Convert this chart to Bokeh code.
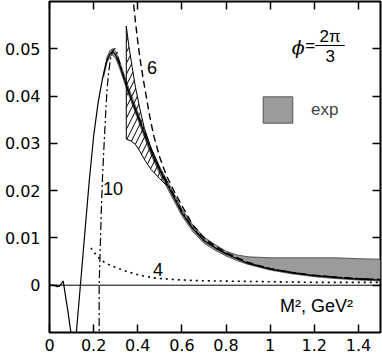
from bokeh.plotting import figure
from bokeh.models import (Range1d, FixedTicker, LinearAxis, Span, Label, Legend,
                          LegendItem)
from bokeh.embed import file_html
from bokeh.resources import INLINE

# ---------------- data ----------------
x_ticks = [0, 0.2, 0.4, 0.6, 0.8, 1.0, 1.2, 1.4]
x_tick_labels = ["0", "0.2", "0.4", "0.6", "0.8", "1", "1.2", "1.4"]
y_ticks = [0, 0.01, 0.02, 0.03, 0.04, 0.05]
y_tick_labels = ["0", "0.01", "0.02", "0.03", "0.04", "0.05"]

# full theory curve (solid)
solid_x = [0.0, 0.02, 0.035, 0.045, 0.055, 0.062, 0.07, 0.085, 0.097, 0.11, 0.12,
           0.14, 0.16, 0.18, 0.20, 0.22, 0.24, 0.26, 0.275, 0.285, 0.30, 0.32,
           0.34, 0.36, 0.38, 0.40, 0.43, 0.46, 0.50, 0.55, 0.60, 0.65, 0.70,
           0.75, 0.80, 0.90, 1.0, 1.1, 1.2, 1.3, 1.4, 1.5]
solid_y = [0.0, 0.0, -0.0003, -0.0002, 0.0004, 0.0009, -0.0015, -0.0060, -0.0100,
           -0.0135, -0.0110, 0.0, 0.0110, 0.0220, 0.0315, 0.0385, 0.0437, 0.0475,
           0.0490, 0.0494, 0.0487, 0.0463, 0.0435, 0.0408, 0.0383, 0.0358, 0.0320,
           0.0283, 0.0242, 0.0198, 0.0153, 0.0119, 0.0094, 0.0079, 0.0066, 0.0046,
           0.0034, 0.0026, 0.0020, 0.0016, 0.0013, 0.0011]

# experimental band (grey)
band_x = [0.245, 0.26, 0.275, 0.285, 0.30, 0.32, 0.34, 0.36, 0.38, 0.40, 0.43,
          0.46, 0.50, 0.55, 0.60, 0.65, 0.70, 0.75, 0.80, 0.85, 0.90, 1.0, 1.1,
          1.2, 1.3, 1.4, 1.5]
band_hi = [0.0448, 0.0482, 0.0497, 0.0500, 0.0494, 0.0471, 0.0443, 0.0416, 0.0391,
           0.0366, 0.0328, 0.0291, 0.0250, 0.0206, 0.0161, 0.0127, 0.0102, 0.0086,
           0.0072, 0.0064, 0.0060, 0.0058, 0.0058, 0.0058, 0.0058, 0.0056, 0.0055]
band_lo = [0.0440, 0.0470, 0.0484, 0.0487, 0.0480, 0.0456, 0.0428, 0.0401, 0.0376,
           0.0351, 0.0313, 0.0276, 0.0235, 0.0191, 0.0147, 0.0113, 0.0089, 0.0074,
           0.0062, 0.0052, 0.0044, 0.0032, 0.0024, 0.0018, 0.0014, 0.0011, 0.0009]

# hatched region
hatch_top_x = [0.348, 0.36, 0.375, 0.39, 0.41, 0.43, 0.46, 0.50, 0.53]
hatch_top_y = [0.0548, 0.0505, 0.0460, 0.0418, 0.0372, 0.0332, 0.0290, 0.0246, 0.0218]
hatch_bot_x = [0.348, 0.37, 0.389, 0.41, 0.43, 0.46, 0.50, 0.53]
hatch_bot_y = [0.0309, 0.0305, 0.0298, 0.0283, 0.0266, 0.0245, 0.0225, 0.0212]

# curve "6" (dashed)
c6_x = [0.372, 0.38, 0.39, 0.40, 0.41, 0.425, 0.44, 0.455, 0.473, 0.50, 0.53,
        0.56, 0.60, 0.65, 0.70, 0.75, 0.80, 0.90, 1.0, 1.1, 1.2, 1.3, 1.4, 1.5]
c6_y = [0.064, 0.060, 0.0555, 0.0515, 0.0480, 0.0435, 0.0395, 0.0355, 0.0315,
        0.0270, 0.0232, 0.0203, 0.0168, 0.0127, 0.0100, 0.0083, 0.0069, 0.0048,
        0.0035, 0.0027, 0.0021, 0.0017, 0.0014, 0.0012]

# curve "10" (dash-dot)
c10_x = [0.225, 0.225, 0.23, 0.235, 0.24, 0.246, 0.253, 0.261, 0.268, 0.276, 0.285,
         0.292, 0.298, 0.305, 0.315, 0.33, 0.35, 0.37, 0.40, 0.43, 0.46, 0.50, 0.55,
         0.60, 0.65, 0.70, 0.75, 0.80, 0.90, 1.0, 1.1, 1.2, 1.3, 1.4, 1.5]
c10_y = [-0.012, 0.0, 0.008, 0.016, 0.0225, 0.0285, 0.035, 0.0415, 0.0450, 0.0478,
         0.0494, 0.0500, 0.0500, 0.0493, 0.0475, 0.0450, 0.0420, 0.0394, 0.0360,
         0.0324, 0.0288, 0.0247, 0.0203, 0.0157, 0.0121, 0.0096, 0.0080, 0.0067,
         0.0047, 0.0035, 0.0027, 0.0021, 0.0017, 0.0014, 0.0012]

# curve "4" (dotted)
c4_x = [0.188, 0.20, 0.215, 0.229, 0.25, 0.275, 0.304, 0.35, 0.41, 0.48, 0.564,
        0.65, 0.75, 0.9, 1.05, 1.2, 1.35, 1.5]
c4_y = [0.0079, 0.0071, 0.0062, 0.0055, 0.0048, 0.0042, 0.0037, 0.0029, 0.0021,
        0.0015, 0.0012, 0.0010, 0.0009, 0.0008, 0.0007, 0.0006, 0.0006, 0.0006]

# ---------------- figure ----------------
SANS = "Liberation Sans"
TICKFONT = "DejaVu Sans"

p = figure(width=382, height=359, x_range=Range1d(0, 1.5), y_range=Range1d(-0.01, 0.06),
           output_backend="svg", toolbar_location=None,
           min_border_left=49, min_border_right=2, min_border_top=1, min_border_bottom=27)
p.grid.visible = False
p.outline_line_color = "black"
p.outline_line_width = 2
p.background_fill_color = "white"
p.border_fill_color = "white"

for ax, ticks, labels in ((p.xaxis[0], x_ticks, x_tick_labels),
                          (p.yaxis[0], y_ticks, y_tick_labels)):
    ax.ticker = FixedTicker(ticks=ticks)
    ax.major_label_overrides = {t: l for t, l in zip(ticks, labels)}
    ax.axis_line_color = None
    ax.major_tick_in = 8
    ax.major_tick_out = 0
    ax.major_tick_line_width = 1.5
    ax.minor_tick_line_color = None
    ax.major_label_text_font = TICKFONT
    ax.major_label_text_font_size = "16px"
    ax.major_label_text_color = "black"
p.xaxis.major_label_standoff = 6
p.yaxis.major_label_standoff = 9

for loc, ticks in (("above", x_ticks), ("right", y_ticks)):
    ax = LinearAxis(ticker=FixedTicker(ticks=ticks), axis_line_color=None,
                    major_tick_in=8, major_tick_out=0, major_tick_line_width=1.5,
                    minor_tick_line_color=None, major_label_standoff=0,
                    major_label_overrides={t: "" for t in ticks})
    p.add_layout(ax, loc)

# experimental band
band_r = p.patch(band_x + band_x[::-1], band_hi + band_lo[::-1],
                 fill_color="#9b9b9b", line_color="#3a3a3a", line_width=0.8)

# hatched region
p.patch(hatch_top_x + hatch_bot_x[::-1], hatch_top_y + hatch_bot_y[::-1],
        fill_color=None, line_color="black", line_width=1,
        hatch_pattern="/", hatch_color="black", hatch_scale=11, hatch_weight=1)

p.add_layout(Span(location=0, dimension="width", line_color="black", line_width=1))

p.line(solid_x, solid_y, line_color="black", line_width=1.2)
p.line(c6_x, c6_y, line_color="black", line_width=1.4, line_dash="7 4")
p.line(c10_x, c10_y, line_color="black", line_width=1.2, line_dash="8 3 2 3")
p.line(c4_x, c4_y, line_color="black", line_width=1.6, line_dash="2 4")

def lab(x, y, t, size="17px", font=SANS, style="normal", baseline="middle", align="center"):
    p.add_layout(Label(x=x, y=y, text=t, text_font=font, text_font_size=size,
                       text_font_style=style, text_baseline=baseline, text_align=align,
                       text_color="black"))

lab(0.465, 0.0460, "6", size="18px")
lab(0.288, 0.0204, "10", size="18px")
lab(0.492, 0.0034, "4", size="18px")
lab(1.045, -0.00448, "M², GeV²", size="18px", align="left")

# phi = 2pi/3
lab(1.127, 0.0503, "ϕ", size="19px", font="DejaVu Serif", style="italic")
lab(1.181, 0.0507, "=", size="17px")
lab(1.272, 0.0506, "2π", size="17px", baseline="bottom")
lab(1.272, 0.0497, "3", size="17px", baseline="top")
p.segment(x0=[1.205], y0=[0.0507], x1=[1.338], y1=[0.0507], line_color="black", line_width=1.2)

legend = Legend(items=[LegendItem(label="exp", renderers=[band_r])],
                location=(210, 206), glyph_width=37, glyph_height=33,
                label_standoff=15, padding=0, margin=0, spacing=0,
                border_line_color=None, background_fill_alpha=0,
                label_text_font=SANS, label_text_font_size="17px")
p.add_layout(legend)

open("out.html", "w").write(file_html(p, INLINE))
